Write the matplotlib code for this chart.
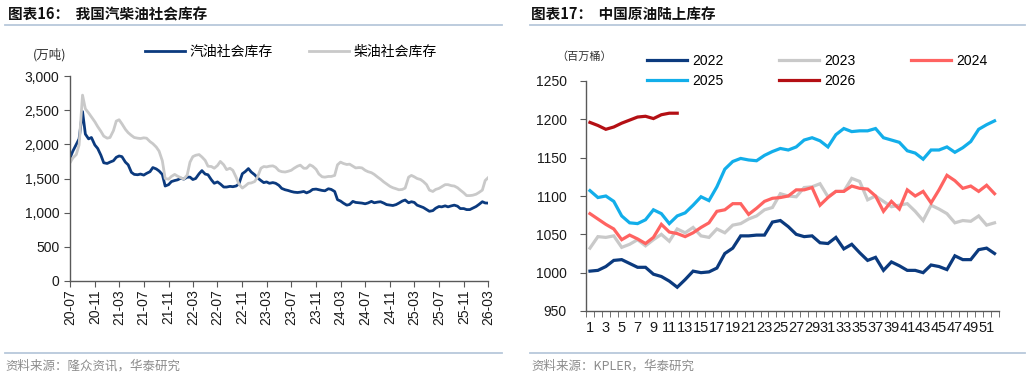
import matplotlib
matplotlib.use("Agg")
import matplotlib.pyplot as plt
import matplotlib.dates as mdates
from matplotlib.lines import Line2D
from matplotlib.ticker import FuncFormatter
import numpy as np
import pandas as pd

plt.rcParams["font.family"] = ["Liberation Sans", "Noto Sans CJK SC", "DejaVu Sans"]
plt.rcParams["axes.unicode_minus"] = False

# ---- left: 汽柴油社会库存 (万吨), semi-monthly samples 2020-07 .. 2026-03
gas_stock = [
    1800, 1900, 2000, 2080, 2480, 2150, 2080, 2100, 1990, 1940,
    1840, 1730, 1720, 1740, 1760, 1810, 1830, 1820, 1740, 1700,
    1590, 1560, 1555, 1565, 1550, 1575, 1600, 1660, 1640, 1610,
    1560, 1390, 1410, 1455, 1470, 1480, 1505, 1490, 1520, 1520,
    1485, 1500, 1570, 1615, 1565, 1555, 1480, 1430, 1450, 1420,
    1375, 1375, 1385, 1380, 1390, 1420, 1570, 1600, 1645, 1595,
    1555, 1510, 1470, 1440, 1450, 1430, 1440, 1430, 1400, 1355,
    1335, 1325, 1310, 1300, 1295, 1300, 1310, 1290, 1310, 1340,
    1345, 1335, 1325, 1320, 1350, 1340, 1310, 1190, 1170, 1140,
    1110, 1120, 1165, 1150, 1145, 1140, 1130, 1142, 1165, 1145,
    1155, 1160, 1140, 1118, 1110, 1105, 1118, 1140, 1170, 1185,
    1145, 1160, 1150, 1110, 1090, 1075, 1045, 1020, 1030, 1065,
    1090, 1085, 1100, 1085, 1100, 1110, 1095, 1060, 1060, 1045,
    1045, 1065, 1090, 1120, 1160, 1142, 1140,
]
diesel_stock = [
    1730, 1800, 1850, 1990, 2720, 2520, 2460, 2400, 2330, 2260,
    2190, 2120, 2090, 2100, 2200, 2340, 2360, 2300, 2220, 2170,
    2130, 2100, 2090, 2085, 2095, 2090, 2040, 2010, 1960, 1900,
    1760, 1500, 1490, 1530, 1560, 1535, 1510, 1490, 1550, 1740,
    1820, 1840, 1850, 1815, 1765, 1680, 1675, 1650, 1690, 1750,
    1700, 1630, 1650, 1620, 1520, 1420, 1360, 1390, 1430, 1435,
    1455, 1520, 1650, 1675, 1670, 1680, 1685, 1665, 1615, 1600,
    1595, 1605, 1620, 1650, 1680, 1695, 1650, 1650, 1700, 1680,
    1635, 1565, 1525, 1520, 1530, 1530, 1545, 1700, 1740, 1720,
    1705, 1710, 1680, 1655, 1660, 1655, 1620, 1600, 1585, 1560,
    1520, 1490, 1450, 1420, 1385, 1365, 1350, 1335, 1340, 1360,
    1520, 1545, 1525, 1500, 1485, 1455, 1410, 1330, 1310, 1340,
    1355, 1380, 1410, 1410, 1395, 1390, 1365, 1330, 1290, 1250,
    1250, 1255, 1270, 1295, 1330, 1470, 1510,
]
stock_dates = pd.date_range("2020-07-01", periods=len(gas_stock), freq="SMS")

# ---- right: 中国原油陆上库存 (百万桶), by week
weeks = list(range(1, 53))
crude = {
    "2022": [1002, 1003, 1008, 1016, 1017, 1012, 1007, 1007, 998, 995,
             989, 981, 991, 1002, 1000, 1001, 1006, 1025, 1032, 1048,
             1048, 1049, 1049, 1066, 1068, 1060, 1050, 1047, 1048, 1039,
             1038, 1046, 1031, 1037, 1026, 1016, 1020, 1003, 1014, 1009,
             1003, 1003, 1000, 1010, 1008, 1004, 1022, 1017, 1017, 1030,
             1032, 1025],
    "2023": [1032, 1047, 1046, 1048, 1033, 1037, 1043, 1035, 1043, 1050,
             1041, 1057, 1052, 1059, 1048, 1046, 1057, 1052, 1062, 1064,
             1070, 1074, 1082, 1085, 1103, 1100, 1099, 1111, 1112, 1116,
             1099, 1106, 1106, 1123, 1119, 1095, 1100, 1093, 1086, 1088,
             1090, 1080, 1068, 1088, 1083, 1077, 1065, 1068, 1067, 1074,
             1062, 1065],
    "2024": [1077, 1070, 1063, 1057, 1043, 1049, 1044, 1038, 1046, 1063,
             1053, 1051, 1047, 1052, 1059, 1065, 1080, 1082, 1090, 1090,
             1076, 1084, 1093, 1097, 1098, 1100, 1108, 1108, 1111, 1088,
             1098, 1106, 1106, 1113, 1110, 1109, 1100, 1080, 1093, 1083,
             1108, 1100, 1106, 1091, 1108, 1127, 1120, 1110, 1113, 1106,
             1114, 1103],
    "2025": [1107, 1098, 1100, 1093, 1074, 1065, 1064, 1069, 1082, 1077,
             1064, 1074, 1078, 1088, 1099, 1094, 1112, 1135, 1145, 1149,
             1147, 1146, 1153, 1158, 1162, 1160, 1164, 1173, 1176, 1172,
             1164, 1180, 1188, 1184, 1185, 1185, 1188, 1176, 1173, 1170,
             1159, 1156, 1148, 1160, 1160, 1164, 1157, 1163, 1171, 1187,
             1193, 1198],
    "2026": [1196, 1192, 1187, 1190, 1195, 1199, 1203, 1204, 1201, 1206,
             1208, 1208],
}
year_colors = {"2022": "#0B3A7E", "2023": "#C9C9C9", "2024": "#FF6361",
               "2025": "#12AEEA", "2026": "#B40F14"}

NAVY = "#0B3A7E"
GREY = "#C9C9C9"
AXC = "#595959"
W, H = 1030, 378


def fx(px):
    return px / W


def fy(py):
    return 1 - py / H


fig = plt.figure(figsize=(W / 100, H / 100), dpi=100)

# titles + rules
cjk = ["Noto Sans CJK SC", "Liberation Sans"]
fig.text(fx(8), fy(14), "图表16：  我国汽柴油社会库存", family=cjk, fontsize=10.5,
         fontweight="bold", va="center", ha="left", color="#111111")
fig.text(fx(531), fy(14), "图表17：  中国原油陆上库存", family=cjk, fontsize=10.5,
         fontweight="bold", va="center", ha="left", color="#111111")
for x0, x1 in [(5, 502), (530, 1025)]:
    fig.add_artist(Line2D([fx(x0), fx(x1)], [fy(24.5)] * 2, color="#B7C8DB", lw=1.3))
    fig.add_artist(Line2D([fx(x0), fx(x1)], [fy(353)] * 2, color="#B7C8DB", lw=1.3))
fig.text(fx(5), fy(366), "资料来源：隆众资讯，华泰研究", family=cjk, fontsize=9,
         color="#8C8C8C", va="center", ha="left")
fig.text(fx(531), fy(366), "资料来源：KPLER，华泰研究", family=["Noto Sans CJK SC"],
         fontsize=9, color="#8C8C8C", va="center", ha="left")

# ---- left chart
ax1 = fig.add_axes([fx(70), fy(281), fx(488 - 70), (281 - 76) / H])
ax1.plot(stock_dates, gas_stock, color=NAVY, lw=2.0, label="汽油社会库存")
ax1.plot(stock_dates, diesel_stock, color=GREY, lw=2.0, label="柴油社会库存")
ax1.set_ylim(0, 3000)
ax1.set_yticks(range(0, 3001, 500))
ax1.yaxis.set_major_formatter(FuncFormatter(lambda v, _: f"{int(v):,}"))
ax1.set_xlim(pd.Timestamp("2020-07-01"), pd.Timestamp("2026-03-01"))
ax1.xaxis.set_major_locator(mdates.MonthLocator(bymonth=[3, 7, 11]))
ax1.xaxis.set_major_formatter(mdates.DateFormatter("%y-%m"))
for lab in ax1.get_xticklabels():
    lab.set_rotation(90)
ax1.tick_params(axis="both", labelsize=10, color=AXC, length=4, direction="out",
                labelcolor="#1A1A1A")
ax1.tick_params(axis="x", pad=2)
fig.text(fx(33), fy(55), "(万吨)", family=cjk, fontsize=9, va="center", ha="left",
         color="#333333")
ax1.legend(loc="center left", bbox_to_anchor=(fx(138), fy(52)),
           bbox_transform=fig.transFigure, ncol=2, frameon=False, borderpad=0,
           handlelength=2.9, handletextpad=0.3, columnspacing=2.6,
           prop={"family": cjk, "size": 10})

# ---- right chart
ax2 = fig.add_axes([fx(586), fy(311), fx(998.5 - 586), (311 - 81) / H])
for yr, vals in crude.items():
    ax2.plot(weeks[:len(vals)], vals, color=year_colors[yr], lw=2.3, label=yr,
             solid_joinstyle="miter")
ax2.set_ylim(950, 1250)
ax2.set_yticks(range(950, 1251, 50))
ax2.set_xlim(0.5, 52.5)
ax2.set_xticks(weeks[::2])
ax2.set_xticklabels([str(w) for w in weeks[::2]])
ax2.set_xticks(np.arange(0.5, 53, 1), minor=True)
ax2.tick_params(axis="x", which="major", length=0, labelsize=10.5, pad=7)
ax2.tick_params(axis="x", which="minor", length=4, color=AXC)
ax2.tick_params(axis="y", labelsize=10, length=4, color=AXC, pad=10)
ax2.tick_params(labelcolor="#1A1A1A")
fig.text(fx(556), fy(57), "（百万桶）", family=cjk, fontsize=8, va="center",
         ha="left", color="#333333")
h = {l.get_label(): l for l in ax2.get_lines()}
order = ["2022", "2025", "2023", "2026", "2024"]
ax2.legend([h[k] for k in order], order, loc="upper left",
           bbox_to_anchor=(fx(640), fy(47)), bbox_transform=fig.transFigure,
           ncol=3, frameon=False, borderpad=0, handlelength=2.9,
           handletextpad=0.35, columnspacing=4.0, labelspacing=0.45,
           prop={"size": 10})

for ax in (ax1, ax2):
    for s in ("top", "right"):
        ax.spines[s].set_visible(False)
    for s in ("left", "bottom"):
        ax.spines[s].set_color(AXC)
        ax.spines[s].set_linewidth(1.0)
    ax.set_facecolor("white")

fig.savefig("out.png", dpi=100)
